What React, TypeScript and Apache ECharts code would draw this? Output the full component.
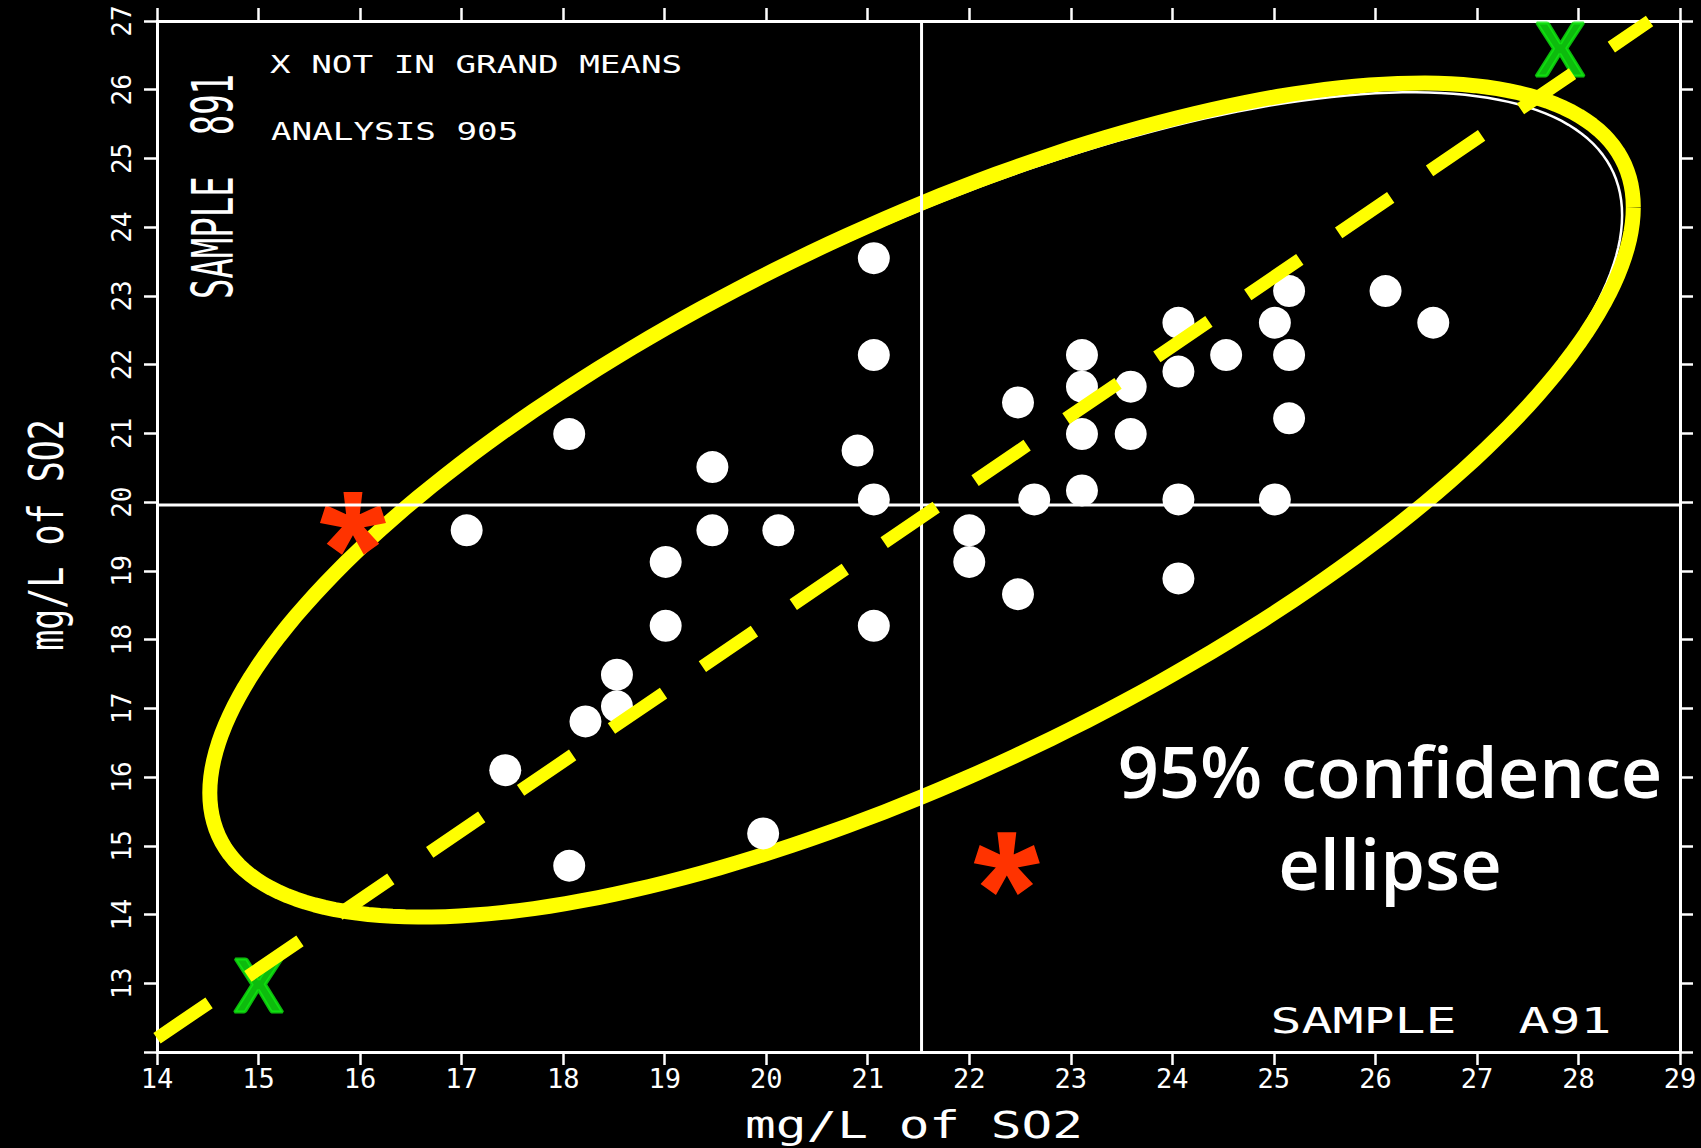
import React, { useEffect, useRef } from "react";
import * as echarts from "echarts";

// ---- axes ----
const X_MIN = 14;
const X_MAX = 29;
const Y_MIN = 12;
const Y_MAX = 27;

// ---- laboratory results (sample A91 on x, sample B91 on y) ----
const dotX = [
  21.06, 21.06, 18.06, 20.9, 21.06, 19.47, 17.05, 19.47, 20.12, 19.01, 19.01,
  21.06, 18.53, 18.53, 18.22, 17.43, 18.06, 19.97, 22.0, 22.0, 22.48, 22.48,
  22.64, 23.11, 23.11, 23.11, 23.11, 23.59, 23.59, 24.06, 24.06, 24.06, 24.06,
  24.53, 25.01, 25.15, 25.15, 25.15, 25.01, 26.1, 26.57,
];
const dotY = [
  23.55, 22.14, 20.99, 20.75, 20.04, 20.51, 19.59, 19.59, 19.59, 19.13, 18.2,
  18.2, 17.49, 17.03, 16.81, 16.1, 14.71, 15.18, 19.59, 19.13, 18.66, 21.45,
  20.04, 22.14, 21.68, 20.99, 20.17, 21.68, 20.99, 22.61, 21.9, 20.04, 18.89,
  22.14, 22.61, 23.07, 22.14, 21.22, 20.04, 23.07, 22.61,
];

// outliers (red asterisks)
const outlierX = [15.93, 22.37];
const outlierY = [19.69, 14.74];

// results not in grand means (green X)
const excludedX = [15.0, 27.82];
const excludedY = [12.99, 26.6];

// grand means
const grandMeanX = 21.53;
const grandMeanY = 19.96;

// 45-degree reference line end points
const diagX = [14, 28.7];
const diagY = [12.2, 27.0];

// 95% confidence ellipse: centre + U*cos(t) + V*sin(t)
const ellipseCenter = [21.53, 20.03];
const ellipseU = [7.01, 4.26];
const ellipseV = [0, 4.32];
// the plotter's own (thin white) ellipse, slightly offset underneath
const plotEllipseCenter = [21.49, 19.957];
const plotEllipseScale = 0.99;

const ASTERISK =
  "path://M59,50L65,0L35,0L41,50Z" +
  "M52.78,58.56L102.19,48.82L92.91,20.28L47.22,41.44Z" +
  "M42.72,55.29L67.25,99.27L91.53,81.63L57.28,44.71Z" +
  "M42.72,44.71L8.47,81.63L32.75,99.27L57.28,55.29Z" +
  "M52.78,41.44L7.09,20.28L-2.19,48.82L47.22,58.56Z" +
  "M41.77,38.67L36.68,54.33L50,64L63.32,54.33L58.23,38.67Z";

const mono = "'DejaVu Sans Mono', monospace";
const sans = "'Open Sans', Lato, sans-serif";

function ellipseSeries(
  center: number[],
  scale: number,
  color: string,
  width: number
) {
  return {
    type: "custom",
    silent: true,
    data: [center],
    renderItem: (_params: any, api: any) => {
      const pts: number[][] = [];
      const N = 240;
      for (let i = 0; i <= N; i++) {
        const t = (2 * Math.PI * i) / N;
        const c = Math.cos(t);
        const s = Math.sin(t);
        pts.push(
          api.coord([
            center[0] + scale * (ellipseU[0] * c + ellipseV[0] * s),
            center[1] + scale * (ellipseU[1] * c + ellipseV[1] * s),
          ])
        );
      }
      return {
        type: "polyline",
        shape: { points: pts },
        style: { stroke: color, lineWidth: width, fill: null, lineJoin: "round" },
      };
    },
  };
}

function axisCommon(min: number, max: number) {
  return {
    type: "value",
    min,
    max,
    interval: 1,
    axisLine: { show: true, onZero: false, lineStyle: { color: "#fff", width: 3 } },
    axisTick: { show: true, inside: false, length: 13, lineStyle: { color: "#fff", width: 2.5 } },
    splitLine: { show: false },
  };
}

export default function App() {
  const ref = useRef<HTMLDivElement>(null);

  useEffect(() => {
    if (!ref.current) return;
    const chart = echarts.init(ref.current, null, { renderer: "svg" });

    const dots = dotX.map((x, i) => [x, dotY[i]]);
    const outliers = outlierX.map((x, i) => [x, outlierY[i]]);
    const excluded = excludedX.map((x, i) => [x, excludedY[i]]);

    const option: any = {
      animation: false,
      backgroundColor: "#000",
      grid: { left: 157, right: 21, top: 21, bottom: 96, containLabel: false },
      xAxis: [
        {
          ...axisCommon(X_MIN, X_MAX),
          position: "bottom",
          axisLabel: { color: "#fff", fontFamily: mono, fontSize: 27, margin: 13 },
        },
        {
          ...axisCommon(X_MIN, X_MAX),
          position: "top",
          axisLabel: { show: false },
        },
      ],
      yAxis: [
        {
          ...axisCommon(Y_MIN, Y_MAX),
          position: "left",
          axisLabel: {
            color: "#fff",
            fontFamily: mono,
            fontSize: 26,
            rotate: 90,
            margin: 22,
            formatter: (v: number) => (v === Y_MIN ? "" : String(v)),
          },
        },
        {
          ...axisCommon(Y_MIN, Y_MAX),
          position: "right",
          axisLabel: { show: false },
        },
      ],
      series: [
        {
          type: "line",
          silent: true,
          symbol: "none",
          data: [
            [grandMeanX, Y_MIN],
            [grandMeanX, Y_MAX],
          ],
          lineStyle: { color: "#fff", width: 3 },
        },
        {
          type: "line",
          silent: true,
          symbol: "none",
          data: [
            [X_MIN, grandMeanY],
            [X_MAX, grandMeanY],
          ],
          lineStyle: { color: "#fff", width: 3 },
        },
        ellipseSeries(plotEllipseCenter, plotEllipseScale, "#ffffff", 2.5),
        ellipseSeries(ellipseCenter, 1, "#ffff00", 15),
        {
          type: "line",
          silent: true,
          symbol: "none",
          data: diagX.map((x, i) => [x, diagY[i]]),
          lineStyle: { color: "#ffff00", width: 13, type: [63, 47], cap: "butt" },
        },
        {
          type: "scatter",
          data: dots,
          symbol: "circle",
          symbolSize: 32,
          itemStyle: { color: "#ffffff", opacity: 1 },
        },
        {
          type: "scatter",
          data: outliers,
          symbol: ASTERISK,
          symbolSize: 66,
          symbolKeepAspect: true,
          itemStyle: { color: "#ff3300", borderWidth: 0, opacity: 1 },
        },
        {
          type: "scatter",
          data: excluded,
          symbol: "circle",
          symbolSize: 1,
          itemStyle: { color: "rgba(0,0,0,0)" },
          label: {
            show: true,
            position: "inside",
            formatter: "X",
            color: "#10ea10",
            fontFamily: "Lato, 'Open Sans', sans-serif",
            fontWeight: "bold",
            fontSize: 72,
            textBorderColor: "#10ea10",
            textBorderWidth: 3,
          },
        },
      ],
      graphic: [
        {
          type: "text",
          x: 270,
          y: 64,
          scaleX: 1.37,
          style: {
            text: "X NOT IN GRAND MEANS",
            fill: "#fff",
            fontSize: 25,
            fontFamily: mono,
            textAlign: "left",
            textVerticalAlign: "middle",
          },
        },
        {
          type: "text",
          x: 271,
          y: 131,
          scaleX: 1.37,
          style: {
            text: "ANALYSIS 905",
            fill: "#fff",
            fontSize: 25,
            fontFamily: mono,
            textAlign: "left",
            textVerticalAlign: "middle",
          },
        },
        {
          type: "text",
          x: 213,
          y: 186.5,
          rotation: Math.PI / 2,
          scaleY: 1.69,
          style: {
            text: "SAMPLE  891",
            fill: "#fff",
            fontSize: 34,
            fontFamily: mono,
            textAlign: "center",
            textVerticalAlign: "middle",
          },
        },
        {
          type: "text",
          x: 1441,
          y: 1020,
          scaleX: 1.43,
          style: {
            text: "SAMPLE  A91",
            fill: "#fff",
            fontSize: 36,
            fontFamily: mono,
            textAlign: "center",
            textVerticalAlign: "middle",
          },
        },
        {
          type: "text",
          x: 914,
          y: 1126,
          scaleX: 1.38,
          style: {
            text: "mg/L of SO2",
            fill: "#fff",
            fontSize: 37,
            fontFamily: mono,
            textAlign: "center",
            textVerticalAlign: "middle",
          },
        },
        {
          type: "text",
          x: 46,
          y: 535,
          rotation: Math.PI / 2,
          scaleY: 1.37,
          style: {
            text: "mg/L of SO2",
            fill: "#fff",
            fontSize: 35,
            fontFamily: mono,
            textAlign: "center",
            textVerticalAlign: "middle",
          },
        },
        {
          type: "text",
          x: 1390,
          y: 817,
          scaleX: 1.03,
          style: {
            text: "95% confidence\nellipse",
            fill: "#fff",
            fontSize: 70,
            lineHeight: 92,
            fontWeight: 600,
            fontFamily: sans,
            textAlign: "center",
            textVerticalAlign: "middle",
          },
        },
      ],
    };

    chart.setOption(option);
    return () => chart.dispose();
  }, []);

  return (
    <div
      ref={ref}
      style={{
        position: "fixed",
        left: 0,
        top: 0,
        width: 1701,
        height: 1148,
        background: "#000",
      }}
    />
  );
}
